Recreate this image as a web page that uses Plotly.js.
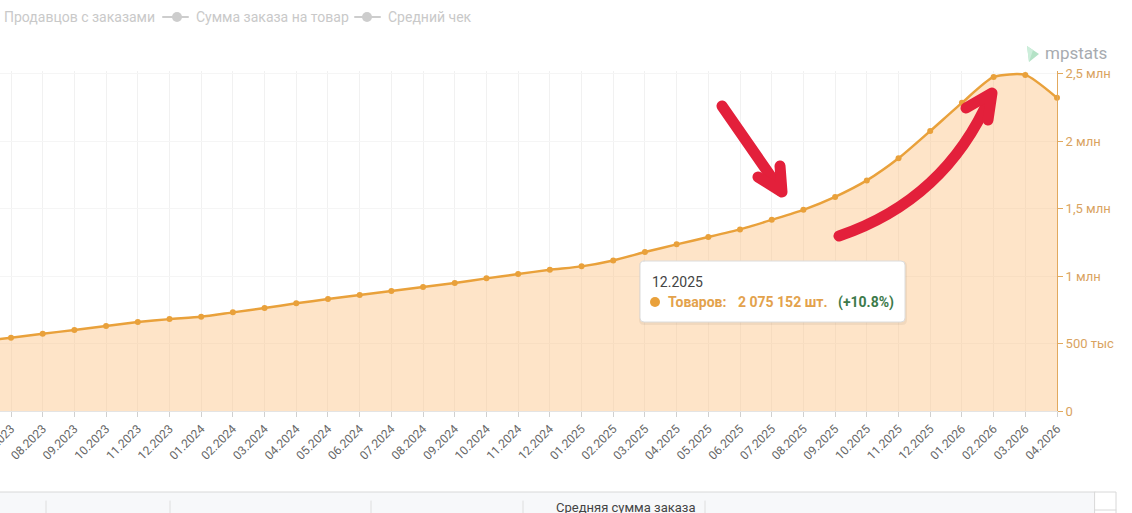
<!DOCTYPE html>
<html>
<head>
<meta charset="utf-8">
<script src="https://cdn.plot.ly/plotly-3.0.1.min.js"></script>
<style>
html,body{margin:0;padding:0;background:#fff;}
#chart{width:1132px;height:513px;}
.shapelayer path{stroke-linecap:round;stroke-linejoin:round;}
</style>
</head>
<body>
<div id="chart"></div>
<script>
// ---- data ----
const months = ['06.2023','07.2023','08.2023','09.2023','10.2023','11.2023','12.2023',
  '01.2024','02.2024','03.2024','04.2024','05.2024','06.2024','07.2024','08.2024','09.2024','10.2024','11.2024','12.2024',
  '01.2025','02.2025','03.2025','04.2025','05.2025','06.2025','07.2025','08.2025','09.2025','10.2025','11.2025','12.2025',
  '01.2026','02.2026','03.2026','04.2026'];
const goods = [515000,543000,573000,600000,630000,659000,681000,
  699000,731000,763000,798000,830000,860000,889000,919000,948000,983000,1015000,1047000,
  1072000,1116000,1178000,1235000,1289000,1346000,1417000,1491000,1587000,1709000,1872900,2075152,
  2284000,2476000,2491000,2321000];
const yTickVals = [0,500000,1000000,1500000,2000000,2500000];
const yTickText = ['0','500 тыс','1 млн','1,5 млн','2 млн','2,5 млн'];
const legendNames = ['Продавцов с заказами','Сумма заказа на товар','Средний чек'];
const seriesName = 'Товаров:';
const tableHeader = 'Средняя сумма заказа';
const tooltipIndex = 30;

// ---- pixel -> paper helpers (plot area: x 0..1057, y 71..411) ----
const PW = 1057, PT = 71, PB = 411, PH = PB - PT;
const PX = x => x / PW;
const PY = y => (PB - y) / PH;
function path(pts, close){
  return pts.map((p,i)=>(i?'L':'M')+PX(p[0]).toFixed(5)+','+PY(p[1]).toFixed(5)).join(' ')+(close?' Z':'');
}
function qpath(p0,c,p1){
  return 'M'+PX(p0[0]).toFixed(5)+','+PY(p0[1]).toFixed(5)+' Q'+PX(c[0]).toFixed(5)+','+PY(c[1]).toFixed(5)+' '+PX(p1[0]).toFixed(5)+','+PY(p1[1]).toFixed(5);
}
function rrect(x0,y0,x1,y1,r){
  return 'M'+PX(x0+r)+','+PY(y0)+' L'+PX(x1-r)+','+PY(y0)+' Q'+PX(x1)+','+PY(y0)+' '+PX(x1)+','+PY(y0+r)+
    ' L'+PX(x1)+','+PY(y1-r)+' Q'+PX(x1)+','+PY(y1)+' '+PX(x1-r)+','+PY(y1)+
    ' L'+PX(x0+r)+','+PY(y1)+' Q'+PX(x0)+','+PY(y1)+' '+PX(x0)+','+PY(y1-r)+
    ' L'+PX(x0)+','+PY(y0+r)+' Q'+PX(x0)+','+PY(y0)+' '+PX(x0+r)+','+PY(y0)+' Z';
}
function fmt(v){return String(v).replace(/\B(?=(\d{3})+(?!\d))/g,' ');}

const orange = '#E9A13B';
const red = '#E3203B';

const trace = {
  x: months, y: goods, type:'scatter', mode:'lines+markers',
  line:{color:orange, width:2.5, shape:'spline', smoothing:0.6},
  marker:{color:orange, size:6},
  fill:'tozeroy', fillcolor:'rgba(252,196,132,0.45)',
  cliponaxis:false, hoverinfo:'skip', showlegend:false
};

const shapes = [];
const annotations = [];
const F = 'Roboto, "Open Sans", sans-serif';

// legend (greyed)
annotations.push({xref:'paper',yref:'paper',x:PX(2),y:PY(17),xanchor:'left',yanchor:'middle',showarrow:false,
  text:legendNames[0],font:{family:F,size:14,color:'#c9c9c9'}});
[[163,177,188,194],[355,367,380,386]].forEach((s,i)=>{
  shapes.push({type:'line',xref:'paper',yref:'paper',x0:PX(s[0]),x1:PX(s[2]),y0:PY(17),y1:PY(17),line:{color:'#cdcdcd',width:2}});
  shapes.push({type:'circle',xref:'paper',yref:'paper',x0:PX(s[1]-5),x1:PX(s[1]+5),y0:PY(12),y1:PY(22),fillcolor:'#cdcdcd',line:{width:0}});
  annotations.push({xref:'paper',yref:'paper',x:PX(s[3]),y:PY(17),xanchor:'left',yanchor:'middle',showarrow:false,
    text:legendNames[i+1],font:{family:F,size:14,color:'#c9c9c9'}});
});

// logo
shapes.push({type:'path',xref:'paper',yref:'paper',path:path([[1027,46],[1039,54],[1029,62]],true),fillcolor:'#b4e2c6',line:{width:0}});
shapes.push({type:'path',xref:'paper',yref:'paper',path:path([[1027,46],[1033,50],[1029,62]],true),fillcolor:'#cdeedb',line:{width:0}});
annotations.push({xref:'paper',yref:'paper',x:PX(1043),y:PY(53),xanchor:'left',yanchor:'middle',showarrow:false,
  text:'mpstats',font:{family:F,size:17,color:'#a7abb0'}});

// tooltip
shapes.push({type:'path',xref:'paper',yref:'paper',path:rrect(639,261,907,325,5),fillcolor:'rgba(0,0,0,0.05)',line:{width:0}});
shapes.push({type:'path',xref:'paper',yref:'paper',path:rrect(640,261,905,322,4),fillcolor:'#ffffff',line:{color:'#dcdcdc',width:1}});
shapes.push({type:'circle',xref:'paper',yref:'paper',x0:PX(650),x1:PX(660),y0:PY(297),y1:PY(307),fillcolor:orange,line:{width:0}});
const pct = ((goods[tooltipIndex]/goods[tooltipIndex-1]-1)*100).toFixed(1);
annotations.push({xref:'paper',yref:'paper',x:PX(650),y:PY(282),xanchor:'left',yanchor:'middle',showarrow:false,
  text:months[tooltipIndex],font:{family:F,size:14,color:'#444'}});
annotations.push({xref:'paper',yref:'paper',x:PX(666),y:PY(302),xanchor:'left',yanchor:'middle',showarrow:false,
  text:'<b>'+seriesName+'</b>',font:{family:F,size:14,color:'#E3A24C'}});
annotations.push({xref:'paper',yref:'paper',x:PX(736),y:PY(302),xanchor:'left',yanchor:'middle',showarrow:false,
  text:'<b>'+fmt(goods[tooltipIndex])+' шт.</b>',font:{family:F,size:14,color:'#E3A24C'}});
annotations.push({xref:'paper',yref:'paper',x:PX(836),y:PY(302),xanchor:'left',yanchor:'middle',showarrow:false,
  text:'<b>(+'+pct+'%)</b>',font:{family:F,size:14,color:'#3C7A4A'}});

// red arrows
shapes.push({type:'path',xref:'paper',yref:'paper',path:path([[722,106],[781,191]]),line:{color:red,width:11}});
shapes.push({type:'path',xref:'paper',yref:'paper',path:path([[758,177],[782,192],[780,166]]),line:{color:red,width:11}});
shapes.push({type:'path',xref:'paper',yref:'paper',path:qpath([839,236],[945,200],[990,97]),line:{color:red,width:11}});
shapes.push({type:'path',xref:'paper',yref:'paper',path:path([[966,108],[992,93],[988,120]]),line:{color:red,width:11}});

// bottom table strip
shapes.push({type:'rect',xref:'paper',yref:'paper',x0:PX(-2),x1:PX(1095),y0:PY(492),y1:PY(515),fillcolor:'#f7f8fa',line:{width:0}});
shapes.push({type:'line',xref:'paper',yref:'paper',x0:PX(-2),x1:PX(1095),y0:PY(492),y1:PY(492),line:{color:'#d8d8d8',width:1}});
[46,170,371,523,705].forEach(x=>{
  shapes.push({type:'line',xref:'paper',yref:'paper',x0:PX(x),x1:PX(x),y0:PY(501),y1:PY(514),line:{color:'#dedede',width:1}});
});
shapes.push({type:'rect',xref:'paper',yref:'paper',x0:PX(1095),x1:PX(1116),y0:PY(492),y1:PY(515),fillcolor:'#ffffff',line:{color:'#d8d8d8',width:1}});
shapes.push({type:'line',xref:'paper',yref:'paper',x0:PX(1095),x1:PX(1116),y0:PY(510),y1:PY(510),line:{color:'#d8d8d8',width:1}});
annotations.push({xref:'paper',yref:'paper',x:PX(625),y:PY(508),xanchor:'center',yanchor:'middle',showarrow:false,
  text:tableHeader,font:{family:F,size:13,color:'#444'}});

const layout = {
  width:1132, height:513,
  margin:{l:0,r:75,t:PT,b:102,pad:0},
  paper_bgcolor:'#ffffff', plot_bgcolor:'#ffffff',
  showlegend:false,
  font:{family:F},
  xaxis:{
    type:'category', range:[0.653, 34],
    tickmode:'array', tickvals:months, ticktext:months,
    tickangle:-45, tickfont:{family:F,size:12,color:'#666'},
    ticks:'outside', ticklen:5, tickcolor:'#d0d0d0', tickwidth:1,
    showgrid:true, gridcolor:'#f1f1f1', gridwidth:1,
    showline:true, linecolor:'#e4e4e4', linewidth:1,
    zeroline:false, fixedrange:true
  },
  yaxis:{
    side:'right', range:[0,2520000],
    tickmode:'array', tickvals:yTickVals, ticktext:yTickText,
    tickfont:{family:F,size:13,color:'#D9A35F'},
    ticks:'outside', ticklen:5, tickcolor:'#E2A95E', tickwidth:1,
    showline:true, linecolor:'#E2A95E', linewidth:1,
    showgrid:true, gridcolor:'#f5f5f5',
    zeroline:false, fixedrange:true
  },
  shapes:shapes,
  annotations:annotations
};

Plotly.newPlot('chart',[trace],layout,{displayModeBar:false,staticPlot:true});
</script>
</body>
</html>
